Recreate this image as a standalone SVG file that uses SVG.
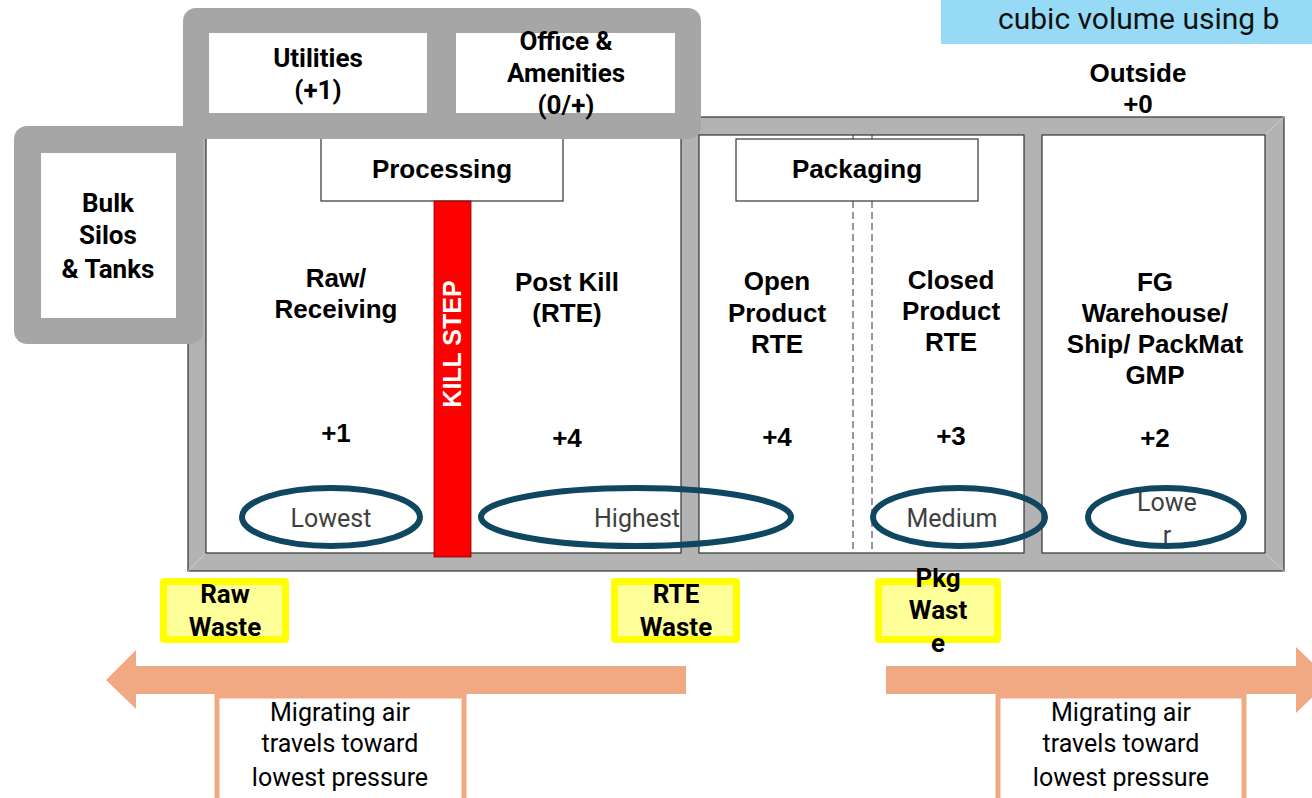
<svg xmlns="http://www.w3.org/2000/svg" width="1312" height="798" viewBox="0 0 1312 798">
<style>
.lbl{font-family:"Liberation Sans",Arial,sans-serif;font-weight:bold;font-size:26px;fill:#000;text-anchor:middle}
.apb{font-family:Roboto,"Open Sans",sans-serif;font-weight:bold;font-size:26px;fill:#000;text-anchor:middle}
.apr{font-family:Roboto,"Open Sans",sans-serif;font-size:25px;fill:#000;text-anchor:middle}
.lvl{font-family:Roboto,"Open Sans",sans-serif;font-size:25px;fill:#404040;text-anchor:middle}
.room{fill:#fff;stroke:#333;stroke-width:1.2}
.blk{fill:#a6a6a6}
.inner{fill:#fff}
.ell{fill:none;stroke:#0f4761;stroke-width:6}
.ybox{fill:#ffff00}
.yin{fill:#ffff99}
.arrow{fill:#f1a983}
.note{fill:#fff;stroke:#f1a983;stroke-width:5}
.dash{stroke:#333;stroke-width:1;stroke-dasharray:7,4;fill:none}
</style>

<g id="banner">
<rect x="941" y="0" width="371" height="44" fill="#97daf6"/>
<text x="998" y="29" font-family="Roboto,'Open Sans',sans-serif" font-size="30" fill="#111">cubic volume using b</text>
</g>

<g id="outside">
<text class="lbl" x="1138" y="82">Outside</text>
<text class="lbl" x="1138" y="113">+0</text>
</g>

<g id="building">
<rect x="188" y="117" width="1096" height="454" fill="#b3b3b3" stroke="#333" stroke-width="1.2"/>
<line x1="188" y1="571" x2="206" y2="553" stroke="#cfcfcf" stroke-width="1"/>
<line x1="1284" y1="117" x2="1265" y2="135" stroke="#cfcfcf" stroke-width="1"/>
<line x1="1284" y1="571" x2="1265" y2="553" stroke="#cfcfcf" stroke-width="1"/>
</g>

<g id="room-processing">
<rect class="room" x="206" y="135" width="475" height="418"/>
</g>

<g id="room-packaging">
<rect class="room" x="699" y="135" width="325" height="418"/>
<line class="dash" x1="853" y1="135" x2="853" y2="553"/>
<line class="dash" x1="872" y1="135" x2="872" y2="553"/>
</g>

<g id="room-fg">
<rect class="room" x="1042" y="135" width="223" height="418"/>
</g>

<g id="processing-header">
<rect class="room" x="321" y="136" width="242" height="65"/>
<text class="lbl" x="442" y="178">Processing</text>
</g>

<g id="packaging-header">
<rect class="room" x="736" y="139" width="242" height="62"/>
<text class="lbl" x="857" y="178">Packaging</text>
</g>

<g id="kill-step">
<rect x="434" y="201" width="37" height="356" fill="#ff0000" stroke="#7a0000" stroke-width="0.8"/>
<text class="lbl" x="0" y="0" style="fill:#fff;font-size:25px" transform="translate(461,344) rotate(-90)">KILL STEP</text>
</g>

<g id="utilities-office">
<rect class="blk" x="183" y="8" width="518" height="131" rx="13"/>
<rect class="inner" x="209" y="33" width="218" height="80"/>
<rect class="inner" x="456" y="33" width="219" height="80"/>
<text class="apb" x="318" y="67">Utilities</text>
<text class="apb" x="318" y="99">(+1)</text>
<text class="apb" x="566" y="50">Office &amp;</text>
<text class="apb" x="566" y="82">Amenities</text>
<text class="apb" x="566" y="114">(0/+)</text>
</g>

<g id="bulk-silos">
<rect class="blk" x="14" y="126" width="189" height="218" rx="13"/>
<rect class="inner" x="41" y="153" width="135" height="165"/>
<text class="apb" x="108" y="212">Bulk</text>
<text class="apb" x="108" y="244">Silos</text>
<text class="apb" x="108" y="278">&amp; Tanks</text>
</g>

<g id="raw-receiving">
<text class="lbl" x="336" y="287">Raw/</text>
<text class="lbl" x="336" y="318">Receiving</text>
<text class="lbl" x="336" y="442">+1</text>
<ellipse class="ell" cx="331" cy="517" rx="89" ry="29"/>
<text class="lvl" x="331" y="527">Lowest</text>
</g>

<g id="post-kill">
<text class="lbl" x="567" y="291">Post Kill</text>
<text class="lbl" x="567" y="322">(RTE)</text>
<text class="lbl" x="567" y="447">+4</text>
<ellipse class="ell" cx="636" cy="517" rx="155" ry="29"/>
<text class="lvl" x="637" y="527">Highest</text>
</g>

<g id="open-product">
<text class="lbl" x="777" y="290">Open</text>
<text class="lbl" x="777" y="322">Product</text>
<text class="lbl" x="777" y="353">RTE</text>
<text class="lbl" x="777" y="446">+4</text>
</g>

<g id="closed-product">
<text class="lbl" x="951" y="289">Closed</text>
<text class="lbl" x="951" y="320">Product</text>
<text class="lbl" x="951" y="351">RTE</text>
<text class="lbl" x="951" y="445">+3</text>
<ellipse class="ell" cx="959" cy="517" rx="86" ry="29"/>
<text class="lvl" x="952" y="527">Medium</text>
</g>

<g id="fg-warehouse">
<text class="lbl" x="1155" y="291">FG</text>
<text class="lbl" x="1155" y="322">Warehouse/</text>
<text class="lbl" x="1155" y="353">Ship/ PackMat</text>
<text class="lbl" x="1155" y="384">GMP</text>
<text class="lbl" x="1155" y="447">+2</text>
<ellipse class="ell" cx="1166" cy="517" rx="78" ry="29"/>
<text class="lvl" x="1167" y="511">Lowe</text>
<text class="lvl" x="1167" y="544">r</text>
</g>

<g id="raw-waste">
<rect class="ybox" x="160" y="578" width="129" height="65" rx="4"/>
<rect class="yin" x="167" y="585" width="115" height="51"/>
<text class="apb" x="225" y="603">Raw</text>
<text class="apb" x="225" y="636">Waste</text>
</g>

<g id="rte-waste">
<rect class="ybox" x="611" y="578" width="129" height="65" rx="4"/>
<rect class="yin" x="618" y="585" width="115" height="51"/>
<text class="apb" x="676" y="603">RTE</text>
<text class="apb" x="676" y="636">Waste</text>
</g>

<g id="pkg-waste">
<rect class="ybox" x="875" y="578" width="126" height="65" rx="4"/>
<rect class="yin" x="882" y="585" width="112" height="51"/>
<text class="apb" x="938" y="587">Pkg</text>
<text class="apb" x="938" y="619">Wast</text>
<text class="apb" x="938" y="652">e</text>
</g>

<g id="connectors">
<polygon class="arrow" points="686,666 136,666 136,650 106,680 136,709 136,694 686,694"/>
<polygon class="arrow" points="886,666 1296,666 1296,647 1330,680 1296,713 1296,694 886,694"/>
</g>

<g id="note-left">
<rect class="note" x="217" y="696" width="247" height="110"/>
<text class="apr" x="340" y="721">Migrating air</text>
<text class="apr" x="340" y="752">travels toward</text>
<text class="apr" x="340" y="786">lowest pressure</text>
</g>

<g id="note-right">
<rect class="note" x="998" y="696" width="246" height="110"/>
<text class="apr" x="1121" y="721">Migrating air</text>
<text class="apr" x="1121" y="752">travels toward</text>
<text class="apr" x="1121" y="786">lowest pressure</text>
</g>
</svg>
